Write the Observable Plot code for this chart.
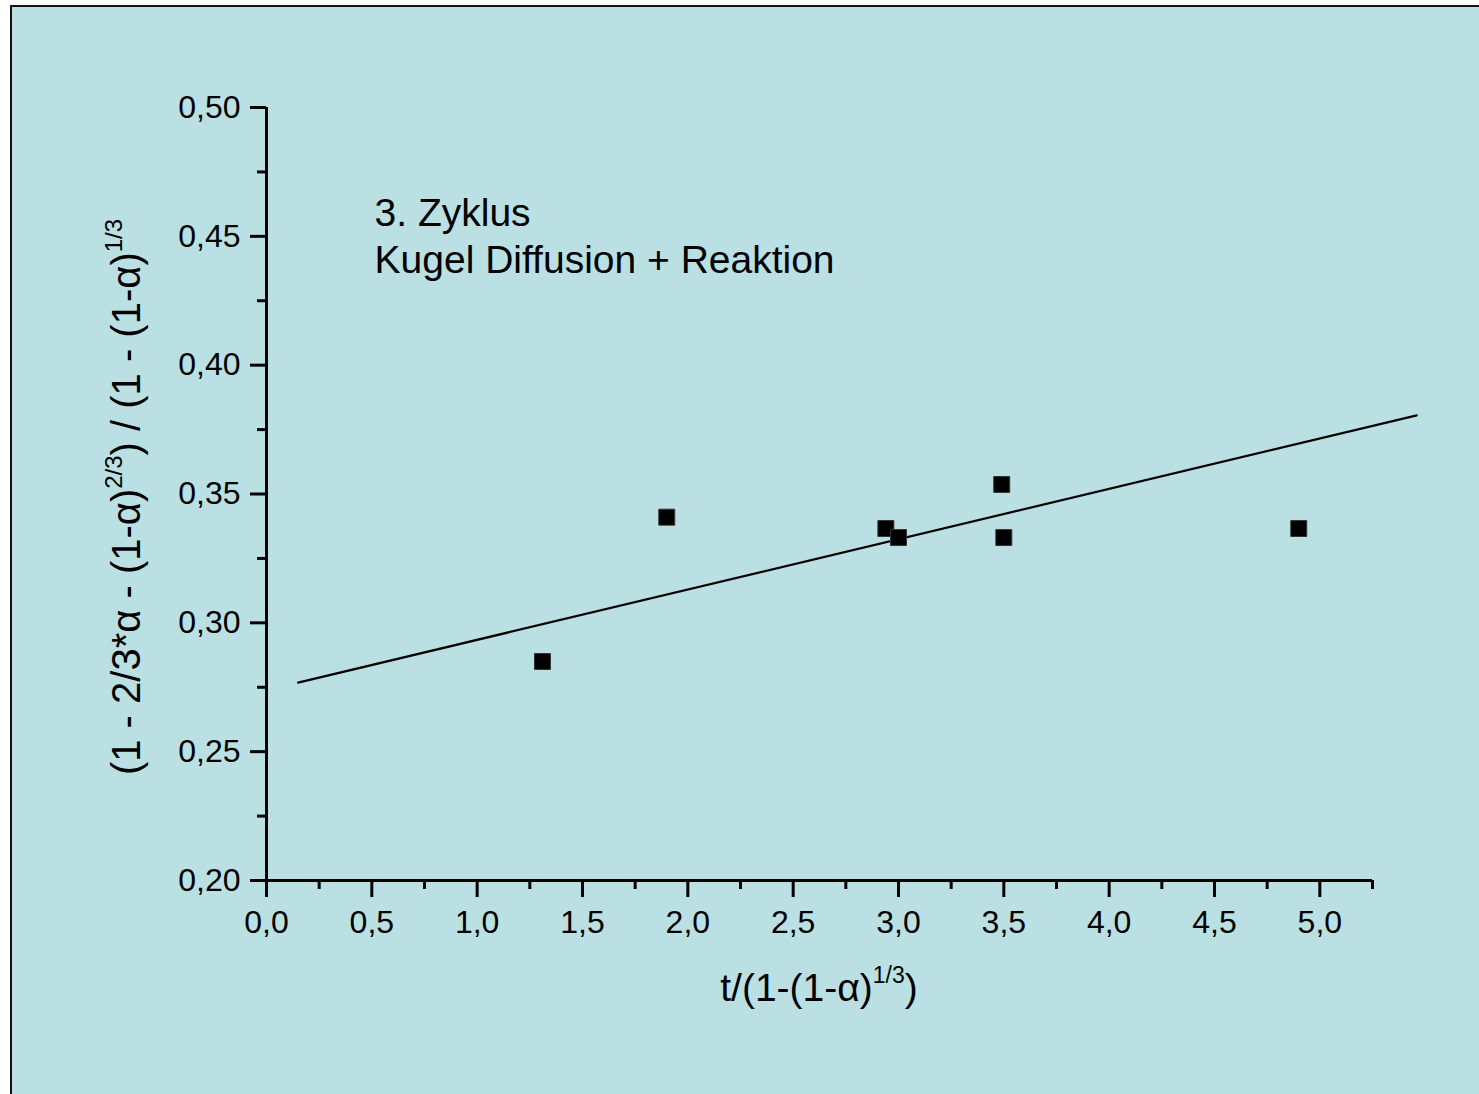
<!DOCTYPE html>
<html>
<head>
<meta charset="utf-8">
<script src="https://cdn.jsdelivr.net/npm/d3@7"></script>
<script src="https://cdn.jsdelivr.net/npm/@observablehq/plot@0.6"></script>
<style>
  html, body { margin: 0; padding: 0; background: #ffffff; overflow: hidden; }
  #bg { position: absolute; left: 10px; top: 5px; width: 1500px; height: 1120px;
        background: #bae0e3; border-left: 2px solid #111; border-top: 2px solid #111; }
  #chart { position: absolute; left: 0; top: 0; }
  #chart svg { background: transparent; }
  #chart svg g[aria-label$="tick label"] { font-size: 32px; }
</style>
</head>
<body>
<div id="bg"></div>
<div id="chart"></div>
<script>
// ---- data ----
const pointX = [1.31, 1.90, 2.94, 3.00, 3.49, 3.50, 4.90];
const pointY = [0.285, 0.341, 0.3366, 0.3331, 0.3537, 0.3331, 0.3366];
const fitX = [0.15, 5.46];
const fitY = [0.2768, 0.3805];
const xMajorTicks = [0, 0.5, 1.0, 1.5, 2.0, 2.5, 3.0, 3.5, 4.0, 4.5, 5.0];
const xMinorTicks = [0.25, 0.75, 1.25, 1.75, 2.25, 2.75, 3.25, 3.75, 4.25, 4.75, 5.25];
const yMajorTicks = [0.20, 0.25, 0.30, 0.35, 0.40, 0.45, 0.50];
const yMinorTicks = [0.225, 0.275, 0.325, 0.375, 0.425, 0.475];
const annotationLines = ["3. Zyklus", "Kugel Diffusion + Reaktion"];

const points = pointX.map((x, i) => ({x, y: pointY[i]}));
const fit = fitX.map((x, i) => ({x, y: fitY[i]}));
const commaFmt = (digits) => (d) => d.toFixed(digits).replace(".", ",");

const FONT = "'Liberation Sans', Arial, Helvetica, sans-serif";

const plot = Plot.plot({
  width: 1479,
  height: 1094,
  marginLeft: 266,
  marginRight: 107,
  marginTop: 107,
  marginBottom: 214,
  style: {fontFamily: FONT, fontSize: "32px", color: "#000", background: "transparent", overflow: "visible"},
  x: {domain: [0, 5.25]},
  y: {domain: [0.2, 0.5]},
  marks: [
    Plot.axisX(xMajorTicks, {tickSize: 17, tickPadding: 13, strokeWidth: 3, tickFormat: commaFmt(1), label: null, fontSize: 32}),
    Plot.axisX(xMinorTicks, {tickSize: 9, strokeWidth: 3, tickFormat: null, text: null, label: null}),
    Plot.axisY(yMajorTicks, {tickSize: 16, tickPadding: 10, strokeWidth: 3, tickFormat: commaFmt(2), label: null, fontSize: 32}),
    Plot.axisY(yMinorTicks, {tickSize: 9, strokeWidth: 3, tickFormat: null, text: null, label: null}),
    Plot.ruleX([0], {y1: 0.2, y2: 0.5, stroke: "#000", strokeWidth: 3}),
    Plot.ruleY([0.2], {x1: 0, x2: 5.25, stroke: "#000", strokeWidth: 3}),
    Plot.line(fit, {x: "x", y: "y", stroke: "#000", strokeWidth: 2.2}),
    Plot.dot(points, {x: "x", y: "y", symbol: "square", r: 9, fill: "#000", stroke: "#333", strokeWidth: 1}),
    Plot.text([annotationLines.join("\n")], {x: 0.513, y: 0.4668, text: d => d, textAnchor: "start", lineAnchor: "top",
      fontSize: 39, lineHeight: 1.205, fill: "#000"})
  ]
});

document.getElementById("chart").appendChild(plot);

// ---- axis titles with superscripts ----
const svg = d3.select(plot);
const xl = svg.append("text")
  .attr("x", 819).attr("y", 1001)
  .attr("text-anchor", "middle")
  .attr("font-family", FONT).attr("font-size", 39).attr("fill", "#000");
xl.append("tspan").text("t/(1-(1-α)");
xl.append("tspan").attr("dy", -18).attr("font-size", 23).text("1/3");
xl.append("tspan").attr("dy", 18).text(")");

const yg = svg.append("g").attr("transform", "translate(140,497) rotate(-90)");
const yl = yg.append("text")
  .attr("x", 0).attr("y", 0)
  .attr("text-anchor", "middle")
  .attr("font-family", FONT).attr("font-size", 40).attr("fill", "#000");
yl.append("tspan").text("(1 - 2/3*α - (1-α)");
yl.append("tspan").attr("dy", -18).attr("font-size", 24).text("2/3");
yl.append("tspan").attr("dy", 18).text(") / (1 - (1-α)");
yl.append("tspan").attr("dy", -18).attr("font-size", 24).text("1/3");
</script>
</body>
</html>
